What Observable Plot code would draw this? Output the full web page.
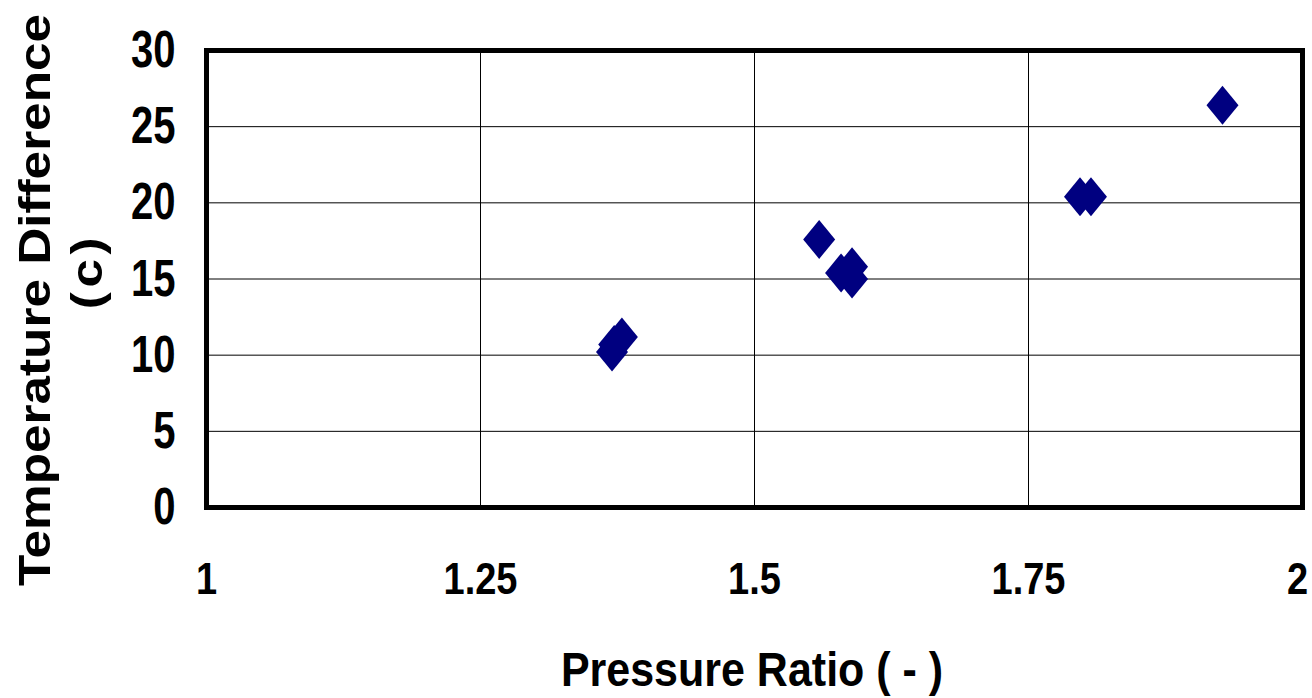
<!DOCTYPE html>
<html><head><meta charset="utf-8">
<script src="https://cdn.jsdelivr.net/npm/d3@7"></script>
<script src="https://cdn.jsdelivr.net/npm/@observablehq/plot@0.6"></script>
<style>body{margin:0;background:#fff} #chart{width:1312px;height:698px}</style>
</head><body><div id="chart"></div>
<script>
const pressureRatio = [1.370, 1.372, 1.379, 1.559, 1.579, 1.589, 1.589, 1.797, 1.807, 1.927];
const tempDiff = [10.2, 10.7, 11.2, 17.6, 15.4, 15.8, 15.0, 20.4, 20.4, 26.4];
const xTicks = [1, 1.25, 1.5, 1.75, 2];
const xTickLabels = ["1", "1.25", "1.5", "1.75", "2"];
const yTicks = [0, 5, 10, 15, 20, 25, 30];
const yTickLabels = ["0", "5", "10", "15", "20", "25", "30"];
const xLabel = "Pressure Ratio ( - )";
const yLabelLines = ["Temperature Difference", "(c)"];

const data = pressureRatio.map((x, i) => ({x, y: tempDiff[i]}));
const tallDiamond = {draw(ctx) { const w = 16, h = 19.5; ctx.moveTo(0, -h); ctx.lineTo(w, 0); ctx.lineTo(0, h); ctx.lineTo(-w, 0); ctx.closePath(); }};
const FONT = "'Liberation Sans', Arial, Helvetica, sans-serif";

const svg = Plot.plot({
  width: 1312, height: 698,
  marginLeft: 206, marginRight: 10, marginTop: 50, marginBottom: 191,
  style: {fontFamily: FONT, fontWeight: "bold", color: "black", background: "white"},
  x: {domain: [1, 2]},
  y: {domain: [0, 30]},
  marks: [
    Plot.gridX(xTicks, {stroke: "black", strokeOpacity: 1, strokeWidth: 1}),
    Plot.gridY(yTicks, {stroke: "black", strokeOpacity: 1, strokeWidth: 1}),
    Plot.frame({stroke: "black", strokeWidth: 5}),
    Plot.axisX(xTicks, {tickSize: 0, tickPadding: 55, fontSize: 40, tickFormat: d => xTickLabels[xTicks.indexOf(d)], label: null}),
    Plot.axisY(yTicks, {tickSize: 0, tickPadding: 31, fontSize: 40, tickFormat: d => yTickLabels[yTicks.indexOf(d)], label: null}),
    Plot.dot(data, {x: "x", y: "y", symbol: tallDiamond, fill: "#000080", stroke: "none"})
  ]
});

// stretch tick labels to match the reference's tall, narrow glyphs
function stretch(sel, sx, sy, shift) {
  sel.each(function(d, i, nodes) {
    const extra = shift ? shift(i, nodes.length) : "";
    const t = this.getAttribute("transform");
    if (t) {
      this.setAttribute("transform", t + extra + ` scale(${sx},${sy})`);
    } else {
      const x = +(this.getAttribute("x") || 0), y = +(this.getAttribute("y") || 0);
      this.removeAttribute("x"); this.removeAttribute("y");
      this.setAttribute("transform", `translate(${x},${y})` + extra + ` scale(${sx},${sy})`);
    }
  });
}
const s = d3.select(svg);
stretch(s.selectAll('g[aria-label="y-axis tick label"] text'), 1, 1.3);
stretch(s.selectAll('g[aria-label="x-axis tick label"] text'), 0.95, 1.12,
  (i, n) => i === n - 1 ? " translate(-5,0)" : "");

s.append("text")
  .attr("transform", "translate(752,686) scale(1,1.12)")
  .attr("text-anchor", "middle")
  .attr("font-family", FONT).attr("font-weight", "bold").attr("font-size", 43)
  .attr("fill", "black")
  .text(xLabel);

s.append("text")
  .attr("transform", "translate(50,300) rotate(-90) scale(1.14,1)")
  .attr("text-anchor", "middle")
  .attr("font-family", FONT).attr("font-weight", "bold").attr("font-size", 45)
  .attr("fill", "black")
  .text(yLabelLines[0]);

s.append("text")
  .attr("transform", "translate(102,271) rotate(-90) scale(1.14,1)")
  .attr("text-anchor", "middle")
  .attr("font-family", FONT).attr("font-weight", "bold").attr("font-size", 45)
  .attr("letter-spacing", 4)
  .attr("fill", "black")
  .text(yLabelLines[1]);

document.getElementById("chart").appendChild(svg);
</script>
</body></html>
